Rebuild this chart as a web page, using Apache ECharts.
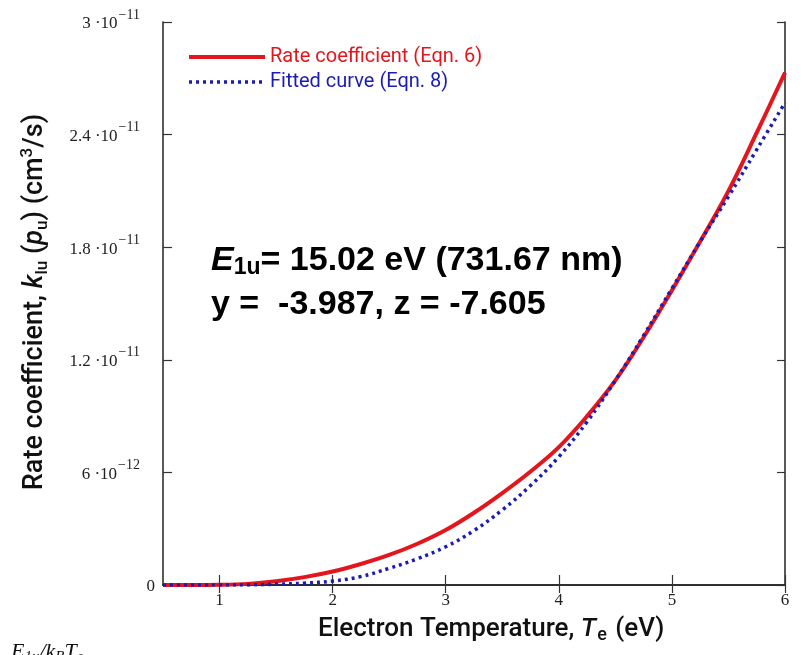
<!DOCTYPE html>
<html>
<head>
<meta charset="utf-8">
<script src="https://cdn.jsdelivr.net/npm/echarts@6/dist/echarts.min.js"></script>
<style>
html,body{margin:0;padding:0;background:#fff;}
#chart{width:802px;height:655px;}
</style>
</head>
<body>
<div id="chart"></div>
<script>
// Electron temperature (eV)
const electronTemp = [0.5, 0.75, 1.0, 1.25, 1.5, 1.75, 2.0, 2.25, 2.5, 2.75, 3.0, 3.25, 3.5, 3.75, 4.0, 4.25, 4.5, 4.75, 5.0, 5.25, 5.5, 5.75, 6.0];
// Rate coefficient (Eqn. 6), cm^3/s
const rateCoefficient = [0, 0, 0.01e-12, 0.06e-12, 0.2e-12, 0.42e-12, 0.72e-12, 1.12e-12, 1.6e-12, 2.2e-12, 2.93e-12, 3.85e-12, 4.9e-12, 6.05e-12, 7.35e-12, 9.0e-12, 10.9e-12, 13.2e-12, 15.7e-12, 18.3e-12, 21.0e-12, 24.1e-12, 27.3e-12];
// Fitted curve (Eqn. 8), cm^3/s
const fittedCurve = [0, 0, 0, 0.005e-12, 0.04e-12, 0.1e-12, 0.21e-12, 0.45e-12, 0.89e-12, 1.4e-12, 2.04e-12, 2.9e-12, 4.0e-12, 5.3e-12, 6.83e-12, 8.7e-12, 10.9e-12, 13.3e-12, 15.8e-12, 18.3e-12, 20.7e-12, 23.2e-12, 25.7e-12];
const seriesNames = ['Rate coefficient (Eqn. 6)', 'Fitted curve (Eqn. 8)'];
const xTickValues = [1, 2, 3, 4, 5, 6];
const xMin = 0.5, xMax = 6;
const yMin = 0, yMax = 3e-11, yStep = 6e-12;

const RED = '#e3161d';
const BLUE = '#1b1bb5';
const SERIF = '"Liberation Serif", "Times New Roman", serif';
const SANS = '"Liberation Sans", Arial, sans-serif';
const TITLE = 'Roboto, "Liberation Sans", Arial, sans-serif';

function zip(xs, ys) { return xs.map((x, i) => [x, ys[i]]); }

function yLabel(v) {
  if (Math.abs(v) < 1e-20) return '{b|0}';
  const e = Math.floor(Math.log10(v) + 1e-9);
  let m = v / Math.pow(10, e);
  m = Math.round(m * 10) / 10;
  return '{b|' + m + ' \u00b710}{s|\u2212' + Math.abs(e) + '}';
}

const chart = echarts.init(document.getElementById('chart'), null, {renderer: 'canvas'});
const axisLineStyle = {color: '#222', width: 1.5};
const tickStyle = {color: '#333', width: 1.2};

chart.setOption({
  animation: false,
  backgroundColor: '#fff',
  grid: {left: 163, right: 17, top: 22, bottom: 70, containLabel: false},
  legend: {
    orient: 'vertical',
    left: 187,
    top: 47,
    padding: 0,
    itemWidth: 76,
    itemHeight: 6,
    itemGap: 5,
    textStyle: {fontFamily: TITLE, fontSize: 20, lineHeight: 20},
    data: [
      {name: seriesNames[0], textStyle: {color: RED}, itemStyle: {opacity: 0}, lineStyle: {color: RED, width: 4}},
      {name: seriesNames[1], textStyle: {color: BLUE}, itemStyle: {opacity: 0}, lineStyle: {color: BLUE, width: 3.5, type: [3, 4]}}
    ]
  },
  xAxis: [{
    type: 'value', min: xMin, max: xMax, position: 'bottom',
    axisLine: {show: true, lineStyle: axisLineStyle},
    axisTick: {show: true, inside: true, length: 10, lineStyle: tickStyle, customValues: xTickValues},
    axisLabel: {show: true, customValues: xTickValues, margin: 7, fontFamily: SERIF, fontSize: 17, color: '#222'},
    splitLine: {show: false}
  }, {
    type: 'value', min: xMin, max: xMax, position: 'top',
    axisLine: {show: true, lineStyle: axisLineStyle},
    axisTick: {show: true, inside: true, length: 8, lineStyle: tickStyle, customValues: xTickValues},
    axisLabel: {show: false},
    splitLine: {show: false}
  }],
  yAxis: [{
    type: 'value', min: yMin, max: yMax, interval: yStep, position: 'left',
    axisLine: {show: true, lineStyle: axisLineStyle},
    axisTick: {show: true, inside: true, length: 9, lineStyle: tickStyle},
    axisLabel: {
      show: true, margin: 8, formatter: yLabel, color: '#222', padding: [4, 0, 0, 0],
      rich: {
        b: {fontFamily: SERIF, fontSize: 17, lineHeight: 32, color: '#222'},
        s: {fontFamily: SERIF, fontSize: 14, lineHeight: 14, verticalAlign: 'top', color: '#222', padding: [0, 15, 0, 1]}
      }
    },
    splitLine: {show: false}
  }, {
    type: 'value', min: yMin, max: yMax, interval: yStep, position: 'right',
    axisLine: {show: true, lineStyle: axisLineStyle},
    axisTick: {show: true, inside: true, length: 8, lineStyle: tickStyle},
    axisLabel: {show: false},
    splitLine: {show: false}
  }],
  series: [{
    name: seriesNames[0], type: 'line', symbol: 'none', smooth: 0.4,
    data: zip(electronTemp, rateCoefficient),
    lineStyle: {color: RED, width: 4},
    itemStyle: {color: RED}, z: 3
  }, {
    name: seriesNames[1], type: 'line', symbol: 'none', smooth: 0.4,
    data: zip(electronTemp, fittedCurve),
    lineStyle: {color: BLUE, width: 3.5, type: [3, 4]},
    itemStyle: {color: BLUE}, z: 4
  }],
  graphic: [{
    type: 'text', left: 318, top: 616,
    style: {
      text: '{n|Electron Temperature, }{i|T}{sub|e}{n| (eV)}',
      rich: {
        n: {fontFamily: TITLE, fontSize: 26, fontWeight: 500, lineHeight: 31, fill: '#111'},
        i: {fontFamily: TITLE, fontSize: 26, fontWeight: 500, fontStyle: 'italic', lineHeight: 31, fill: '#111', padding: [0, 1, 0, 0]},
        sub: {fontFamily: TITLE, fontSize: 18, fontWeight: 500, lineHeight: 18, verticalAlign: 'bottom', fill: '#111', padding: [0, 2, 0, 0]}
      }
    }
  }, {
    type: 'text', x: 35, y: 302, rotation: Math.PI / 2,
    style: {
      text: '{n|Rate coefficient, }{i|k}{sub|lu}{n| (}{i|p}{sub|u}{n|) (cm}{sup|3}{n|/s)}',
      align: 'center', verticalAlign: 'middle',
      rich: {
        n: {fontFamily: TITLE, fontSize: 27, fontWeight: 500, lineHeight: 32, fill: '#111'},
        i: {fontFamily: TITLE, fontSize: 27, fontWeight: 500, fontStyle: 'italic', lineHeight: 32, fill: '#111'},
        sub: {fontFamily: TITLE, fontSize: 17, fontWeight: 500, lineHeight: 17, verticalAlign: 'bottom', fill: '#111'},
        sup: {fontFamily: TITLE, fontSize: 17, fontWeight: 500, lineHeight: 17, verticalAlign: 'top', fill: '#111'}
      }
    }
  }, {
    type: 'text', left: 211, top: 244,
    style: {
      text: '{i|E}{sub|1u}{b|= 15.02 eV (731.67 nm)}',
      rich: {
        b: {fontFamily: SANS, fontSize: 34, fontWeight: 'bold', lineHeight: 36, fill: '#000'},
        i: {fontFamily: SANS, fontSize: 34, fontWeight: 'bold', fontStyle: 'italic', lineHeight: 36, fill: '#000'},
        sub: {fontFamily: SANS, fontSize: 23, fontWeight: 'bold', lineHeight: 23, verticalAlign: 'bottom', fill: '#000'}
      }
    }
  }, {
    type: 'text', left: 211, top: 288,
    style: {
      text: 'y =  -3.987, z = -7.605',
      fontFamily: SANS, fontSize: 34, fontWeight: 'bold', fill: '#000'
    }
  }, {
    type: 'text', left: 11, top: 641,
    style: {
      text: '{i|E}{sub|1u}{i|/k}{sub|B}{i|T}{sub|e}',
      rich: {
        i: {fontFamily: SERIF, fontSize: 22, fontStyle: 'italic', lineHeight: 26, fill: '#111'},
        sub: {fontFamily: SERIF, fontSize: 15, fontStyle: 'italic', lineHeight: 15, verticalAlign: 'bottom', fill: '#111'}
      }
    }
  }]
});
</script>
</body>
</html>
